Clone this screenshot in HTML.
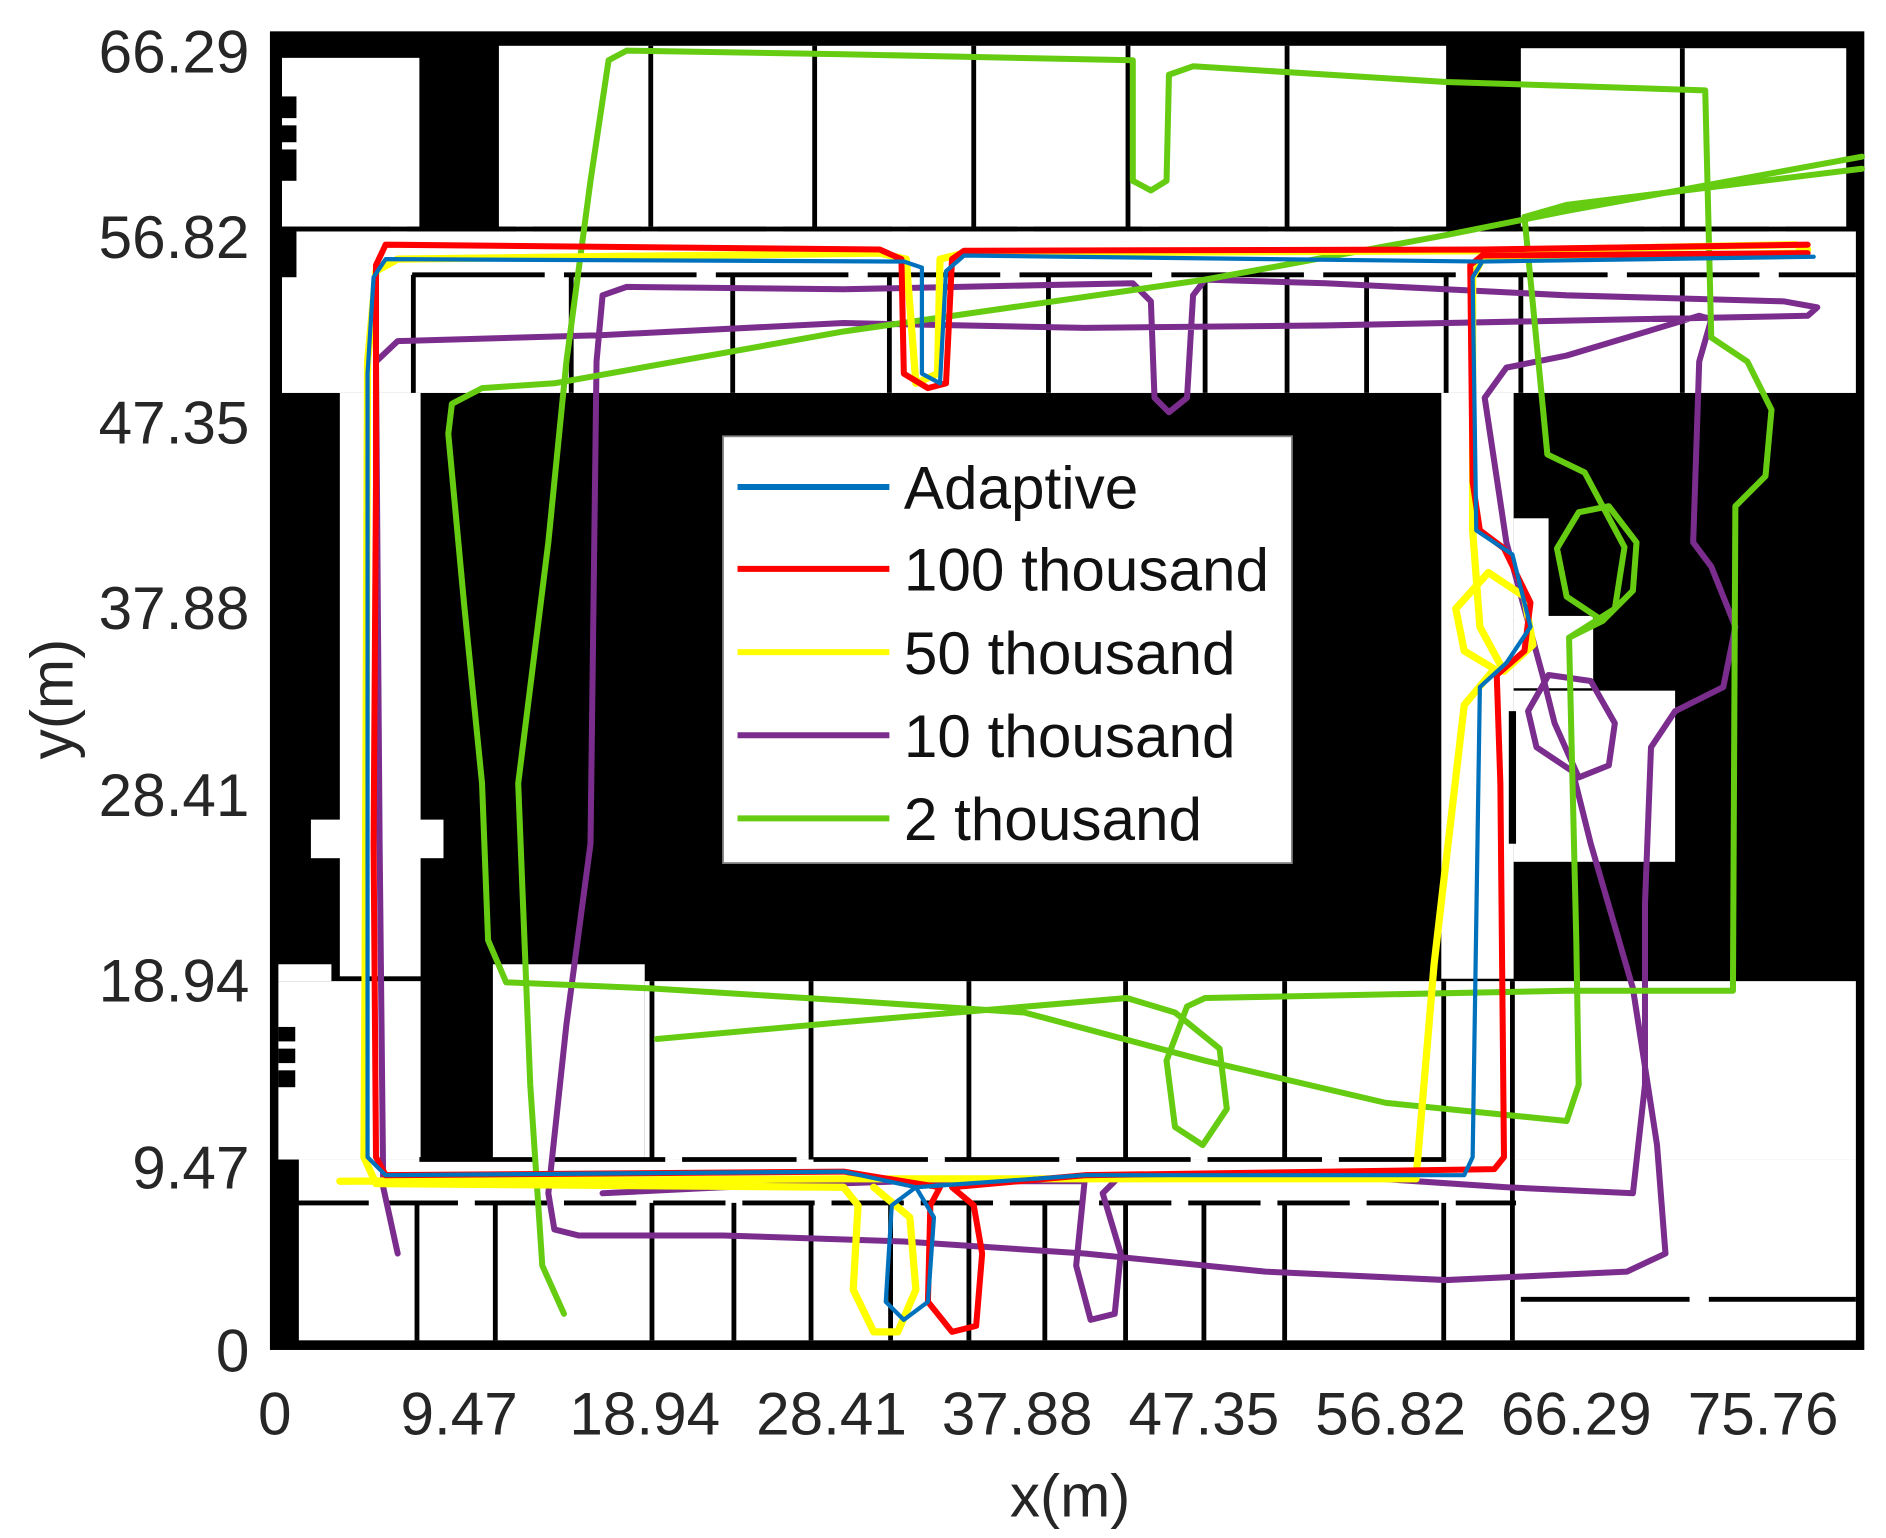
<!DOCTYPE html>
<html><head><meta charset="utf-8"><style>html,body{margin:0;padding:0;background:#fff}svg{display:block}</style></head>
<body>
<svg width="1886" height="1538" viewBox="0 0 1565 1276" preserveAspectRatio="none" xmlns="http://www.w3.org/2000/svg" font-family="Liberation Sans, Arial, sans-serif">
<rect x="0" y="0" width="1565" height="1276" fill="#fff"/>
<rect x="226" y="28" width="1319" height="1090" fill="#000"/>
<g fill="#fff">
<rect x="234" y="48" width="114" height="140"/>
<rect x="414" y="38" width="786" height="150"/>
<rect x="1262" y="40" width="270" height="148"/>
<rect x="234" y="192" width="1306" height="134"/>
<rect x="282" y="326" width="67" height="484"/>
<rect x="258" y="680" width="110" height="32"/>
<rect x="1196" y="326" width="60" height="486"/>
<rect x="1256" y="430" width="29" height="82"/>
<rect x="1256" y="511" width="66" height="60"/>
<rect x="1256" y="573" width="134" height="142"/>
<rect x="231" y="800" width="44" height="14"/>
<rect x="231" y="814" width="118" height="148"/>
<rect x="409" y="800" width="126" height="162"/>
<rect x="535" y="814" width="1005" height="148"/>
<rect x="248" y="962" width="1292" height="150"/>
</g>
<g fill="#000">
<rect x="234" y="80" width="12" height="18"/><rect x="234" y="104" width="12" height="14"/><rect x="234" y="124" width="12" height="26"/>
<rect x="234" y="192" width="12" height="38"/>
<rect x="231" y="852" width="14" height="12"/><rect x="231" y="870" width="14" height="12"/><rect x="231" y="888" width="14" height="14"/>
<rect x="1252" y="590" width="6" height="110"/>
</g>
<g stroke="#000" stroke-width="4" fill="none">
<path d="M540 38V188M676 38V188M808 38V188M936 38V188M1068 38V188M1396 40V188"/>
<path d="M343 228V326M474 228V326M608 228V326M738 228V326M870 228V326M1000 228V326M1068 228V326M1134 228V326M1200 228V326M1262 228V326M1396 228V326"/>
<path d="M541 814V962M673 814V962M804 814V962M934 814V962M1066 814V962M1198 814V962M1255 814V1112"/>
<path d="M346 998V1112M411 998V1112M541 998V1112M609 998V1112M673 998V1112M739 998V1112M804 998V1112M867 998V1112M934 998V1112M999 998V1112M1066 998V1112M1198 998V1112"/>
<path d="M234 190H1540" stroke-dasharray="90 14"/>
<path d="M342 228H1540" stroke-dasharray="110 16"/>
<path d="M348 962H1200" stroke-dasharray="95 14"/>
<path d="M246 998H1258" stroke-dasharray="60 14"/>
<path d="M1262 1078H1540" stroke-dasharray="140 16"/>
</g>
<rect x="226" y="28" width="1319" height="1090" fill="none" stroke="#000" stroke-width="4"/>
<g fill="none" stroke-width="5" stroke-linejoin="round" stroke-linecap="round">
<path stroke="#7b2d8e" d="M330 1040 L318 985 L315 700 L312 300 L330 283 L500 278 L700 268 L900 272 L1100 270 L1300 266 L1500 262 L1508 255 L1480 250 L1300 245 L1100 235 L1000 232 L990 245 L985 330 L970 342 L958 330 L955 250 L940 235 L700 240 L520 238 L500 245 L495 300 L490 700 L470 850 L455 990 L460 1020 L480 1025 L600 1025 L750 1030 L900 1040 L1050 1055 L1200 1062 L1350 1055 L1382 1040 L1375 950 L1355 820 L1320 700 L1305 640 L1275 620 L1268 590 L1285 560 L1320 565 L1340 600 L1335 635 L1310 645 L1290 600 L1280 560 L1250 450 L1232 330 L1250 305 L1300 295 L1410 262 L1420 265 L1410 300 L1405 450 L1420 470 L1440 520 L1430 570 L1390 590 L1370 620 L1365 750 L1365 900 L1355 990 L1250 985 L1100 975 L930 975 L915 990 L930 1040 L925 1090 L905 1095 L893 1050 L900 980 L750 980 L600 985 L500 990"/>
<path stroke="#66cc11" d="M545 862 L700 848 L935 828 L975 840 L1012 870 L1018 920 L998 950 L975 935 L968 880 L985 835 L1000 828 L1300 822 L1438 822 L1440 420 L1465 395 L1470 340 L1450 300 L1420 280 L1415 75 L1200 68 L990 55 L970 62 L968 150 L955 158 L940 150 L940 50 L700 45 L520 42 L505 50 L490 150 L470 300 L455 450 L430 650 L440 900 L450 1050 L468 1090"/>
<path stroke="#66cc11" d="M1545 130 L1300 175 L1200 195 L1000 232 L700 275 L460 318 L400 322 L375 335 L372 360 L385 500 L400 650 L405 780 L420 815 L540 820 L700 830 L850 840 L1000 880 L1150 915 L1300 930 L1310 900 L1308 780 L1302 529 L1330 515 L1355 490 L1358 450 L1335 420 L1310 425 L1292 455 L1300 495 L1330 515 M1302 529 L1340 505 L1348 454 L1315 392 L1284 377 L1265 180 L1300 170 L1545 140"/>
<path stroke="#ffff00" stroke-width="6" d="M282 980 L700 978 L1000 978 L1175 978 L1190 800 L1215 585 L1240 555 L1215 540 L1208 505 L1235 475 L1265 495 L1272 535 L1248 557 L1228 520 L1222 440 L1222 230 L1230 215 L1490 210 L1500 207 L1490 203 L1230 208 L800 210 L780 215 L778 310 L760 318 L752 215 L730 210 L330 215 L312 225 L305 300 L303 800 L302 960 L312 982 L700 985 L712 1000 L708 1070 L725 1105 L745 1105 L760 1070 L755 1010 L725 985"/>
<path stroke="#ff0000" d="M1500 203 L1230 207 L800 208 L790 215 L785 318 L770 322 L750 310 L748 215 L730 207 L320 203 L312 220 L312 400 L310 700 L312 960 L320 975 L700 972 L780 985 L772 1000 L770 1080 L790 1105 L810 1100 L815 1040 L808 1000 L790 985 L900 975 L1240 970 L1248 960 L1245 650 L1242 560 L1265 540 L1270 500 L1248 455 L1228 440 L1222 400 L1220 220 L1230 212 L1500 210"/>
<path stroke="#0072bd" stroke-width="3.5" d="M1505 213 L1230 217 L1222 230 L1225 440 L1255 460 L1270 520 L1250 550 L1228 570 L1222 960 L1215 975 L900 975 L760 985 L740 1000 L735 1080 L750 1095 L770 1080 L775 1010 L760 985 L700 972 L320 975 L305 960 L305 310 L310 230 L320 215 L750 217 L765 222 L765 310 L780 318 L785 225 L800 212 L1230 217"/>
</g>
<rect x="600" y="362" width="472" height="354" fill="#fff" stroke="#888" stroke-width="1.5"/>
<g stroke-width="5">
<line x1="612" y1="404" x2="738" y2="404" stroke="#0072bd"/>
<line x1="612" y1="472" x2="738" y2="472" stroke="#ff0000"/>
<line x1="612" y1="541" x2="738" y2="541" stroke="#ffff00"/>
<line x1="612" y1="610" x2="738" y2="610" stroke="#7b2d8e"/>
<line x1="612" y1="679" x2="738" y2="679" stroke="#66cc11"/>
</g>
<g font-size="50" fill="#111">
<text x="750" y="422">Adaptive</text>
<text x="750" y="490">100 thousand</text>
<text x="750" y="559">50 thousand</text>
<text x="750" y="628">10 thousand</text>
<text x="750" y="697">2 thousand</text>
</g>
<g font-size="50" fill="#262626" text-anchor="end">
<text x="207" y="60">66.29</text>
<text x="207" y="214">56.82</text>
<text x="207" y="368">47.35</text>
<text x="207" y="522">37.88</text>
<text x="207" y="677">28.41</text>
<text x="207" y="831">18.94</text>
<text x="207" y="986">9.47</text>
<text x="207" y="1138">0</text>
</g>
<g font-size="50" fill="#262626" text-anchor="middle">
<text x="228" y="1190">0</text>
<text x="381" y="1190">9.47</text>
<text x="535" y="1190">18.94</text>
<text x="690" y="1190">28.41</text>
<text x="844" y="1190">37.88</text>
<text x="999" y="1190">47.35</text>
<text x="1154" y="1190">56.82</text>
<text x="1308" y="1190">66.29</text>
<text x="1463" y="1190">75.76</text>
<text x="888" y="1258">x(m)</text>
<text transform="translate(60,580) rotate(-90)">y(m)</text>
</g>
</svg>
</body></html>
